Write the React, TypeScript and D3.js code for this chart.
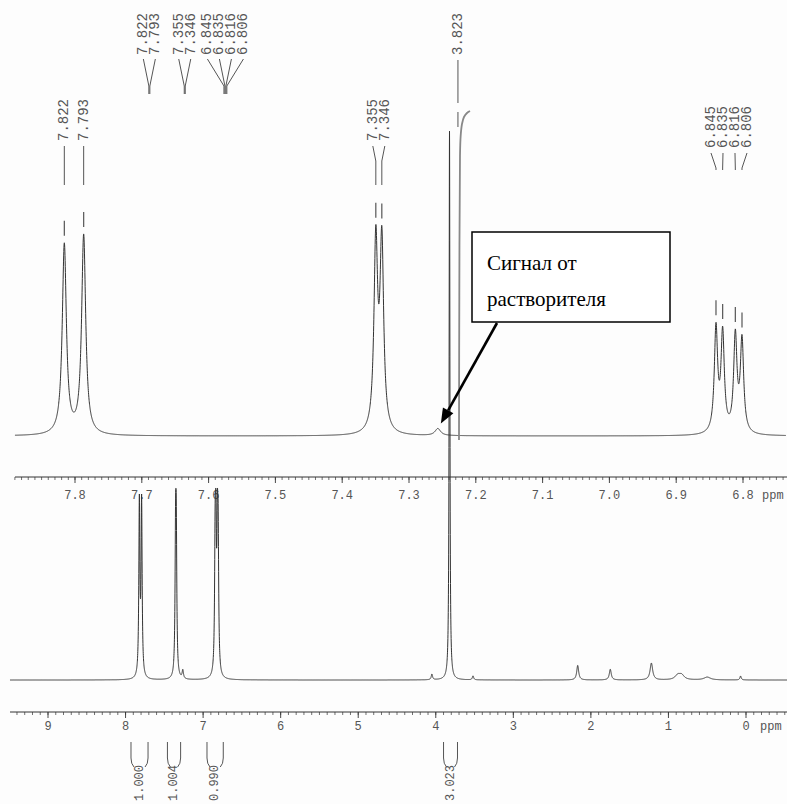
import React from 'react';
import * as d3 from 'd3';

// ---------------- data ----------------
// expanded (upper) spectrum: peak list
const upperPpm = [7.822, 7.793, 7.355, 7.346, 7.262, 6.845, 6.835, 6.816, 6.806];
const upperHeight = [95, 99.5, 94.5, 94, 3.5, 52, 49, 48, 46];
const upperWidth = [0.0037, 0.0037, 0.0033, 0.0033, 0.005, 0.003, 0.003, 0.003, 0.003];

const upperLabelPpm = [7.822, 7.793, 7.355, 7.346, 6.845, 6.835, 6.816, 6.806];
const upperLabelGroup = [0, 0, 1, 1, 2, 2, 2, 2];
const upperTicks = [7.8, 7.7, 7.6, 7.5, 7.4, 7.3, 7.2, 7.1, 7.0, 6.9, 6.8];

// gray trace near 7.23 ppm in the expanded view (ppm, intensity)
const overlayPpm = [7.2303, 7.2298, 7.2288, 7.2278, 7.2258, 7.2228, 7.2183, 7.2138];
const overlayVal = [-2, 70, 140, 150, 156, 159.5, 161.5, 162.5];

// full (lower) spectrum: peak list
const lowerPpm = [7.822, 7.793, 7.355, 7.346, 7.262, 6.845, 6.835, 6.816, 6.806, 4.05, 3.823, 3.52, 2.17, 1.75, 1.22, 0.88, 0.83, 0.5, 0.07];
const lowerHeight = [31, 31, 22.5, 22.5, 1.5, 21, 21, 21, 21, 1.0, 98, 0.7, 2.6, 1.9, 3.0, 0.8, 0.8, 0.5, 0.7];
const lowerWidth = [0.008, 0.008, 0.008, 0.008, 0.01, 0.008, 0.008, 0.008, 0.008, 0.01, 0.006, 0.01, 0.015, 0.015, 0.02, 0.04, 0.04, 0.05, 0.01];

const topLabelPpm = [7.822, 7.793, 7.355, 7.346, 6.845, 6.835, 6.816, 6.806, 3.823];
const topLabelGroup = [0, 0, 1, 1, 2, 2, 2, 2, 3];
const lowerTicks = [9, 8, 7, 6, 5, 4, 3, 2, 1, 0];

const integralFrom = [7.93, 7.46, 6.95, 3.9];
const integralTo = [7.71, 7.29, 6.74, 3.72];
const integralText = ['1.000', '1.004', '0.990', '3.023'];

const solventPpm = 7.262;
const annotationLines = ['Сигнал от', 'растворителя'];

// ---------------- helpers ----------------
const lor = (x: number, ppm: number[], h: number[], g: number[]) => {
  let s = 0;
  for (let i = 0; i < ppm.length; i++) {
    const d = x - ppm[i];
    s += (h[i] * g[i] * g[i]) / (g[i] * g[i] + d * d);
  }
  return s;
};

const MONO = '"Liberation Mono", "DejaVu Sans Mono", monospace';
const INK = '#333';
const LABEL = '#555';

export default function App() {
  const W = 787, H = 804;

  // upper scales
  const xUA = d3.scaleLinear().domain([7.8, 6.8]).range([75, 743]); // axis
  const xUS = d3.scaleLinear().domain([7.8, 6.8]).range([79, 746]); // spectrum (scan offset)
  const yU = d3.scaleLinear().domain([0, 100]).range([436, 236]);

  // lower scales
  const xL = d3.scaleLinear().domain([9, 0]).range([48, 746]);
  const xLT = d3.scaleLinear().domain([9, 0]).range([57, 754]); // label tree (scan offset)
  const yL = d3.scaleLinear().domain([0, 100]).range([680, 120]);

  const upperVal = (p: number) => lor(p, upperPpm, upperHeight, upperWidth);
  const lowerVal = (p: number) => lor(p, lowerPpm, lowerHeight, lowerWidth);

  const uPts = d3.range(78960, 67400, -2).map((i) => i / 10000);
  const upperPath = d3.line<number>().x((p) => xUS(p)).y((p) => yU(upperVal(p)))(uPts) || '';

  const lPts = d3.range(94900, -5300, -10).map((i) => i / 10000);
  const lowerPath = d3.line<number>().x((p) => xL(p)).y((p) => yL(lowerVal(p)))(lPts) || '';

  const overlayPath = d3
    .line<number>()
    .x((_, i) => xUS(overlayPpm[i]))
    .y((v) => yU(v))
    .curve(d3.curveCatmullRom)(overlayVal) || '';

  const uMinor = d3.range(674, 790).map((i) => i / 100);
  const lMinor = d3.range(-5, 95).map((i) => i / 10);

  const spread = (xs: number[], groups: number[], spacing: number) => {
    const out: number[] = [];
    const gs = Array.from(new Set(groups));
    gs.forEach((g) => {
      const idx = groups.map((gg, i) => (gg === g ? i : -1)).filter((i) => i >= 0);
      const c = d3.mean(idx.map((i) => xs[i])) as number;
      const n = idx.length;
      const minGap = d3.min(idx.slice(1).map((i, k) => Math.abs(xs[i] - xs[idx[k]]))) ?? spacing;
      idx.forEach((i, k) => {
        out[i] = minGap >= spacing ? xs[i] : c + (k - (n - 1) / 2) * spacing;
      });
    });
    return out;
  };

  const uPeakX = upperLabelPpm.map((p) => xUS(p));
  const uLabX = spread(uPeakX, upperLabelGroup, 12);
  const uLabBottom = [141, 141, 148];

  const tAnchor: number[] = [];
  topLabelGroup.forEach((g, i) => {
    const ps = topLabelPpm.filter((_, j) => topLabelGroup[j] === g);
    tAnchor[i] = xLT(d3.mean(ps) as number);
  });
  const tLabX = spread(tAnchor.map((x, i) => x + i * 0.001), topLabelGroup, 12);

  const solX = xUS(solventPpm);
  const solY = yU(upperVal(solventPpm));
  const tip = { x: solX + 3, y: solY - 5 };
  const from = { x: 497, y: 323 };
  const ang = Math.atan2(tip.y - from.y, tip.x - from.x);
  const ah = 15, aw = 6;
  const base = { x: tip.x - ah * Math.cos(ang), y: tip.y - ah * Math.sin(ang) };
  const arrowHead = `M${tip.x},${tip.y} L${base.x + aw * Math.sin(ang)},${base.y - aw * Math.cos(ang)} L${base.x - aw * Math.sin(ang)},${base.y + aw * Math.cos(ang)} Z`;

  const upperAxisY = 477;
  const lowerAxisY = 712;

  return (
    <svg width={W} height={H} style={{ position: 'absolute', left: 0, top: 0, background: '#fff' }}>
      <rect x={0} y={0} width={W} height={H} fill="#fdfdfd" />

      {/* ---------- top label tree (full spectrum) ---------- */}
      <g>
        {topLabelPpm.map((p, i) => {
          const lx = tLabX[i];
          const single = topLabelPpm.filter((_, j) => topLabelGroup[j] === topLabelGroup[i]).length === 1;
          const ax = tAnchor[i] + (lx - tAnchor[i]) * 0.08;
          return (
            <g key={'tl' + i}>
              <text
                transform={`translate(${lx},55) rotate(-90)`}
                fontFamily={MONO}
                fontSize={14}
                fill={LABEL}
                dominantBaseline="central"
              >
                {p.toFixed(3)}
              </text>
              {single ? (
                <>
                  <line x1={lx} y1={60} x2={lx} y2={103} stroke={LABEL} strokeWidth={1} />
                  <line x1={lx} y1={112} x2={lx} y2={127} stroke={LABEL} strokeWidth={1} />
                </>
              ) : (
                <path d={`M${lx},59 L${ax},86 L${ax},94`} fill="none" stroke={LABEL} strokeWidth={1} />
              )}
            </g>
          );
        })}
      </g>

      {/* ---------- upper peak labels ---------- */}
      <g>
        {upperLabelPpm.map((p, i) => {
          const g = upperLabelGroup[i];
          const lb = uLabBottom[g];
          const lx = uLabX[i];
          const px = uPeakX[i];
          const top = yU(upperVal(p));
          const endY = g === 2 ? lb + 22 : lb + 44;
          return (
            <g key={'ul' + i}>
              <text
                transform={`translate(${lx},${lb}) rotate(-90)`}
                fontFamily={MONO}
                fontSize={14}
                fill={LABEL}
                dominantBaseline="central"
              >
                {p.toFixed(3)}
              </text>
              <path d={`M${lx},${lb + 5} L${px},${lb + 20} L${px},${endY}`} fill="none" stroke={LABEL} strokeWidth={1} />
              <line x1={px} y1={top - 22} x2={px} y2={top - 7} stroke={LABEL} strokeWidth={1.2} />
            </g>
          );
        })}
      </g>

      {/* ---------- upper spectrum ---------- */}
      <path d={upperPath} fill="none" stroke={INK} strokeWidth={1} />
      <path d={overlayPath} fill="none" stroke="#888" strokeWidth={1.8} />

      {/* upper axis */}
      <g>
        <line x1={15} x2={787} y1={upperAxisY} y2={upperAxisY} stroke={INK} strokeWidth={1} />
        {uMinor.map((t) => (
          <line key={'um' + t} x1={xUA(t)} x2={xUA(t)} y1={upperAxisY} y2={upperAxisY + 3} stroke={INK} strokeWidth={0.7} />
        ))}
        {upperTicks.map((t) => (
          <g key={'ut' + t}>
            <line x1={xUA(t)} x2={xUA(t)} y1={upperAxisY} y2={upperAxisY + 6} stroke={INK} strokeWidth={0.9} />
            <text x={xUA(t)} y={upperAxisY + 22} textAnchor="middle" fontFamily={MONO} fontSize={12} fill={LABEL}>
              {t.toFixed(1)}
            </text>
          </g>
        ))}
        <text x={762} y={upperAxisY + 22} fontFamily={MONO} fontSize={12} fill={LABEL}>ppm</text>
      </g>

      {/* ---------- lower spectrum ---------- */}
      <path d={lowerPath} fill="none" stroke={INK} strokeWidth={1} />

      {/* lower axis */}
      <g>
        <line x1={10} x2={787} y1={lowerAxisY} y2={lowerAxisY} stroke={INK} strokeWidth={1} />
        {lMinor.map((t) => (
          <line key={'lm' + t} x1={xL(t)} x2={xL(t)} y1={lowerAxisY} y2={lowerAxisY + 3} stroke={INK} strokeWidth={0.7} />
        ))}
        {lowerTicks.map((t) => (
          <g key={'lt' + t}>
            <line x1={xL(t)} x2={xL(t)} y1={lowerAxisY} y2={lowerAxisY + 6} stroke={INK} strokeWidth={0.9} />
            <text x={xL(t)} y={lowerAxisY + 18} textAnchor="middle" fontFamily={MONO} fontSize={12} fill={LABEL}>
              {t}
            </text>
          </g>
        ))}
        <text x={760} y={lowerAxisY + 18} fontFamily={MONO} fontSize={12} fill={LABEL}>ppm</text>
      </g>

      {/* integrals */}
      <g>
        {integralText.map((s, i) => {
          const x1 = xL(integralFrom[i]);
          const x2 = xL(integralTo[i]);
          const cx = (x1 + x2) / 2;
          return (
            <g key={'int' + i}>
              <path d={`M${x1},742 L${x1},758 Q${x1},764 ${x1 + 3},767`} fill="none" stroke={LABEL} strokeWidth={1} />
              <path d={`M${x2},742 L${x2},758 Q${x2},764 ${x2 - 3},767`} fill="none" stroke={LABEL} strokeWidth={1} />
              <text
                transform={`translate(${cx},801) rotate(-90)`}
                fontFamily={MONO}
                fontSize={12}
                fill={LABEL}
                dominantBaseline="central"
              >
                {s}
              </text>
            </g>
          );
        })}
      </g>

      {/* ---------- annotation ---------- */}
      <g>
        <rect x={472} y={232} width={198} height={90} fill="#fff" stroke="#000" strokeWidth={1.5} />
        {annotationLines.map((s, i) => (
          <text key={'an' + i} x={487} y={270 + i * 36} fontFamily='"Liberation Serif", "Times New Roman", serif' fontSize={21} fill="#000">
            {s}
          </text>
        ))}
        <line x1={from.x} y1={from.y} x2={base.x} y2={base.y} stroke="#000" strokeWidth={2.6} />
        <path d={arrowHead} fill="#000" />
      </g>
    </svg>
  );
}
